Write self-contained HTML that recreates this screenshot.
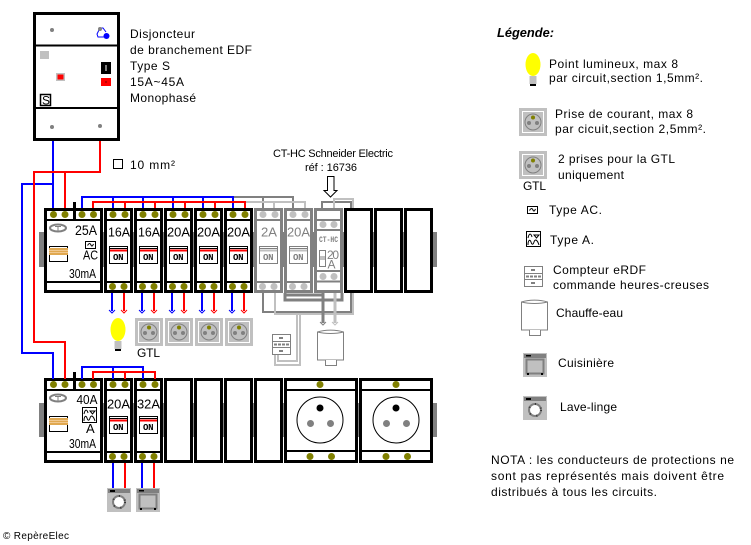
<!DOCTYPE html>
<html><head><meta charset="utf-8"><style>
html,body{margin:0;padding:0;background:#fff}
svg{display:block}
text{font-family:"Liberation Sans",sans-serif;font-size:12px;fill:#000}
.m{font-size:13px}
.g{fill:#808080}
.on{font-family:"Liberation Mono",monospace;font-size:9px;font-weight:bold}
</style></head><body>
<svg width="751" height="545" viewBox="0 0 751 545" xmlns="http://www.w3.org/2000/svg">
<defs>
<g id="mod"><rect x="1.5" y="1.5" width="26" height="82" fill="#fff" stroke="#000" stroke-width="3"/>
<path d="M0 12H29M0 74H29" stroke="#000" stroke-width="2" fill="none"/>
<g fill="#808000"><circle cx="9" cy="6.500" r="3.500"/><circle cx="21" cy="6.500" r="3.500"/><circle cx="8.500" cy="78.500" r="3.500"/><circle cx="20" cy="78.500" r="3.500"/></g>
<rect x="5.500" y="38.500" width="18" height="17" fill="#fff" stroke="#000"/>
<path d="M6 42.500H23" stroke="#f00" stroke-width="2"/><path d="M6 40.500H23" stroke="#000"/>
</g>
<g id="gmod"><rect x="1.500" y="1.500" width="26" height="82" fill="#fff" stroke="#808080" stroke-width="3"/>
<path d="M0 12H29M0 74H29" stroke="#808080" stroke-width="2" fill="none"/>
<g fill="#c0c0c0"><circle cx="9" cy="6.500" r="3.500"/><circle cx="21" cy="6.500" r="3.500"/><circle cx="8.500" cy="78.500" r="3.500"/><circle cx="20" cy="78.500" r="3.500"/></g>
<rect x="5.500" y="38.500" width="18" height="17" fill="#fff" stroke="#808080"/>
<path d="M6 42.500H23" stroke="#c0c0c0" stroke-width="2"/><path d="M6 40.500H23" stroke="#808080"/>
</g>
<rect id="blank" x="1.500" y="1.500" width="26" height="82" fill="#fff" stroke="#000" stroke-width="3"/>
<g id="diff"><rect x="1.500" y="1.500" width="56" height="82" fill="#fff" stroke="#000" stroke-width="3"/>
<path d="M0 12H59M0 74H59" stroke="#000" stroke-width="2"/>
<g fill="#808000"><circle cx="9.500" cy="6.500" r="3.500"/><circle cx="21" cy="6.500" r="3.500"/><circle cx="38" cy="6.500" r="3.500"/><circle cx="49.500" cy="6.500" r="3.500"/></g>
<rect x="29" y="-6" width="3" height="18" fill="#000"/>
<ellipse cx="14" cy="20" rx="8" ry="3.500" fill="#fff" stroke="#808080" stroke-width="2"/><path d="M11 18.500H17M14 18.500V22.500" stroke="#808080"/>
<rect x="5.500" y="38.500" width="18" height="15" fill="#fff" stroke="#000"/><rect x="5" y="40" width="19" height="7" fill="#e0a850"/><path d="M5 42.500H24M5 44.500H24" stroke="#f0c890"/>
</g>
<g id="sock"><rect x="0" y="0" width="28" height="28" fill="#c0c0c0"/><rect x="3.500" y="3.500" width="21" height="21" fill="#c0c0c0" stroke="#fff"/>
<circle cx="14" cy="14" r="8" fill="none" stroke="#808080"/><circle cx="14" cy="9.500" r="2" fill="#808000"/><circle cx="10" cy="15" r="2" fill="#808080"/><circle cx="18" cy="15" r="2" fill="#808080"/></g>
<g id="bulb"><ellipse cx="8" cy="11.500" rx="7.500" ry="11.500" fill="#ff0"/><rect x="4.500" y="23" width="7" height="8" fill="#c0c0c0"/><rect x="5" y="31" width="6" height="2" fill="#000"/></g>
<g id="lave"><rect width="24" height="24" fill="#c0c0c0"/><rect x="1" y="1" width="22" height="4" fill="#808080"/><rect x="3" y="2" width="5" height="2" fill="#000"/>
<circle cx="12" cy="14" r="6" fill="#fff" stroke="#808080" stroke-width="2"/><circle cx="12" cy="14" r="6" fill="none" stroke="#333" stroke-width="2" stroke-dasharray="1 6"/></g>
<g id="cuis"><rect width="24" height="24" fill="#c0c0c0"/><rect x="1" y="1" width="22" height="4" fill="#808080"/><rect x="3" y="2" width="5" height="1.500" fill="#000"/>
<rect x="3.500" y="6.500" width="17" height="14" fill="#c0c0c0" stroke="#808080" stroke-width="2"/><rect x="4" y="20" width="2" height="2" fill="#000"/><rect x="18" y="20" width="2" height="2" fill="#000"/></g>
<g id="meter" fill="none" stroke="#808080"><rect x=".5" y=".5" width="18" height="20" fill="#fff"/><path d="M.5 7.500H18.500M.5 13.500H18.500"/><rect x="7" y="3" width="4" height="2" fill="#808080" stroke="none"/><rect x="7" y="16" width="4" height="2" fill="#808080" stroke="none"/><path d="M2 10.500H17" stroke-dasharray="3 1" stroke-width="2"/></g>
<g id="heater" fill="#fff" stroke="#808080"><path d="M.5 3C8 .5 19 .5 26.500 3V31H.5Z"/><path d="M.5 3C8 5 19 5 26.500 3" fill="none"/><path d="M8.500 31V36.500H19.500V31"/></g>
<g id="sA" fill="none" stroke="#000"><rect x=".5" y=".5" width="14" height="15" fill="#fff"/><path d="M2 7C3 2 5 2 6 6M8 4H13L10.500 7ZM2 14C2 9 4 8 5 11S7 14 8 11 11 8 13 14"/></g>
<g id="sAC" fill="none" stroke="#000"><rect x=".5" y=".5" width="10" height="7" fill="#fff"/><path d="M2.500 4.500C4 2 5 2 6 4S7.500 5 8.500 3"/></g>
<path id="ah" d="M-3 0L0 3L3 0" fill="none" stroke-width="1"/>
</defs>

<!-- rail gaps -->
<rect x="39" y="232" width="398" height="35" fill="#808080"/>
<rect x="39" y="403" width="398" height="34" fill="#808080"/>

<!-- EDF -->
<rect x="34.500" y="13.500" width="84" height="126" fill="#fff" stroke="#000" stroke-width="3"/>
<path d="M34 45.500H119M34 108H119" stroke="#000" stroke-width="2"/>
<g fill="#808080"><circle cx="52" cy="30" r="2"/><circle cx="52" cy="127" r="2"/><circle cx="100" cy="126" r="2"/></g>
<path d="M104 37H98L97 34L100 28H103L106 32" fill="none" stroke="#00f"/>
<circle cx="106.500" cy="36" r="3" fill="#00f"/><circle cx="100" cy="29" r="2" fill="#808080"/>
<rect x="40" y="51" width="9" height="8" fill="#c0c0c0"/>
<rect x="56" y="73" width="9" height="8" fill="#c0c0c0"/><rect x="57.500" y="74.500" width="6" height="5" fill="#f00"/>
<rect x="101" y="62" width="10" height="12" fill="#000"/><rect x="105" y="65" width="2" height="6" fill="#808080"/>
<rect x="101" y="78" width="10" height="8" fill="#f00"/><circle cx="106" cy="82" r="1" fill="#a00"/>
<rect x="40.500" y="94.500" width="10" height="11" fill="#fff" stroke="#000" stroke-width="1.500"/>
<text x="42" y="104.500">S</text>
<text x="130" y="38" textLength="65">Disjoncteur</text>
<text x="130" y="54" textLength="122">de branchement EDF</text>
<text x="130" y="70" textLength="40">Type S</text>
<text x="130" y="86" textLength="54">15A~45A</text>
<text x="130" y="102" textLength="66">Monophasé</text>
<rect x="113.500" y="159.500" width="9" height="9" fill="#fff" stroke="#000"/>
<text x="130" y="169" textLength="45">10 mm²</text>

<!-- Row 1 modules -->
<use href="#diff" x="44" y="208"/>
<use href="#mod" x="104" y="208"/><use href="#mod" x="134" y="208"/><use href="#mod" x="164" y="208"/><use href="#mod" x="194" y="208"/><use href="#mod" x="224" y="208"/>
<use href="#gmod" x="254" y="208"/><use href="#gmod" x="284" y="208"/>
<!-- CT -->
<rect x="315.500" y="209.500" width="26" height="82" fill="#fff" stroke="#808080" stroke-width="3"/>
<path d="M314 220H343M314 230H343M314 271H343M314 281.500H343" stroke="#808080" stroke-width="2"/>
<g fill="#c0c0c0"><circle cx="323" cy="224.500" r="3.500"/><circle cx="334" cy="224.500" r="3.500"/><circle cx="323" cy="276.500" r="3.500"/><circle cx="334" cy="276.500" r="3.500"/></g>
<text x="319" y="242" textLength="19" lengthAdjust="spacingAndGlyphs" class="g" style="font-family:'Liberation Mono',monospace;font-size:8px;font-weight:bold">CT-HC</text>
<rect x="319.500" y="250.500" width="6" height="16" fill="#fff" stroke="#808080"/><path d="M320 257H325M320 259H325" stroke="#808080"/>
<text x="327" y="259" class="g" textLength="12">20</text><text x="327.500" y="268.500" class="g">A</text>

<text x="108" y="236.500" class="m" textLength="22" lengthAdjust="spacingAndGlyphs">16A</text><text x="138" y="236.500" class="m" textLength="22" lengthAdjust="spacingAndGlyphs">16A</text>
<text x="167" y="236.500" class="m" textLength="23" lengthAdjust="spacingAndGlyphs">20A</text><text x="197" y="236.500" class="m" textLength="23" lengthAdjust="spacingAndGlyphs">20A</text><text x="227" y="236.500" class="m" textLength="23" lengthAdjust="spacingAndGlyphs">20A</text>
<text x="261" y="236.500" class="m g" textLength="16" lengthAdjust="spacingAndGlyphs">2A</text><text x="287" y="236.500" class="m g" textLength="23" lengthAdjust="spacingAndGlyphs">20A</text>
<text x="113" y="260" class="on" textLength="10.500">ON</text><text x="143" y="260" class="on" textLength="10.500">ON</text><text x="173" y="260" class="on" textLength="10.500">ON</text><text x="203" y="260" class="on" textLength="10.500">ON</text><text x="233" y="260" class="on" textLength="10.500">ON</text>
<text x="263" y="260" class="on g" textLength="10.500">ON</text><text x="293" y="260" class="on g" textLength="10.500">ON</text>
<text x="75" y="235" style="font-size:14px" textLength="22" lengthAdjust="spacingAndGlyphs">25A</text><use href="#sAC" x="85" y="241"/><text x="83" y="259.500" class="m" textLength="15" lengthAdjust="spacingAndGlyphs">AC</text><text x="69" y="278" class="m" textLength="27" lengthAdjust="spacingAndGlyphs">30mA</text>

<!-- Row 2 modules -->
<use href="#diff" x="44" y="378"/>
<use href="#mod" x="104" y="378"/><use href="#mod" x="134" y="378"/>
<use href="#blank" x="164" y="378"/><use href="#blank" x="194" y="378"/><use href="#blank" x="224" y="378"/><use href="#blank" x="254" y="378"/>
<g fill="#fff" stroke="#000" stroke-width="3"><rect x="285.500" y="379.500" width="71" height="82"/><rect x="360.500" y="379.500" width="71" height="82"/></g>
<path d="M284 390H358M284 451H358M359 390H433M359 451H433" stroke="#000" stroke-width="2"/>
<g fill="#808000"><circle cx="320" cy="384.500" r="3.500"/><circle cx="310" cy="456.500" r="3.500"/><circle cx="331.500" cy="456.500" r="3.500"/><circle cx="396" cy="384.500" r="3.500"/><circle cx="386" cy="456.500" r="3.500"/><circle cx="407.500" cy="456.500" r="3.500"/></g>
<g fill="none" stroke="#000"><circle cx="320" cy="420" r="23"/><circle cx="396" cy="420" r="23"/></g>
<g fill="#808080"><circle cx="310.500" cy="423.500" r="3.500"/><circle cx="330.500" cy="423.500" r="3.500"/><circle cx="386.500" cy="423.500" r="3.500"/><circle cx="406.500" cy="423.500" r="3.500"/></g>
<circle cx="320" cy="408" r="3.500" fill="#000"/><circle cx="396" cy="408" r="3.500" fill="#000"/>
<text x="107" y="408.500" class="m" textLength="23" lengthAdjust="spacingAndGlyphs">20A</text><text x="137" y="408.500" class="m" textLength="23" lengthAdjust="spacingAndGlyphs">32A</text>
<text x="113" y="430" class="on" textLength="10.500">ON</text><text x="143" y="430" class="on" textLength="10.500">ON</text>
<text x="76.500" y="404" class="m" textLength="21" lengthAdjust="spacingAndGlyphs">40A</text><use href="#sA" x="82" y="407"/><text x="86" y="433" class="m">A</text><text x="69" y="448" class="m" textLength="27" lengthAdjust="spacingAndGlyphs">30mA</text>

<!-- wires -->
<g fill="none" stroke-width="2">
<path stroke="#00f" d="M53 141V208M53 184H22V353H53V379"/>
<path stroke="#f00" d="M100 141V172H34V342H65V379M65 172V208"/>
<path stroke="#808080" d="M233 197H293V208M263 197V208"/>
<path stroke="#c0c0c0" d="M245 202H305V208M274 202V208"/>
<path stroke="#00f" d="M82 208V197H233V208M113 197V208M143 197V208M173 197V208M203 197V208"/>
<path stroke="#f00" d="M93 208V202H245V208M125 202V208M155 202V208M185 202V208M215 202V208"/>
<path stroke="#00f" d="M112 293V311M142 293V311M172 293V311M202 293V311M232 293V311"/>
<path stroke="#f00" d="M124 293V311M154 293V311M184 293V311M214 293V311M244 293V311"/>
<path stroke="#00f" d="M82 379V367H143V379M113 367V379"/>
<path stroke="#f00" d="M93 379V372H155V379M125 372V379"/>
<path stroke="#00f" d="M113 463V488M142 463V488"/>
<path stroke="#f00" d="M125 463V488M154 463V488"/>
<path stroke="#808080" d="M263 293V312H351V202H322V208"/>
<path stroke="#c0c0c0" d="M275 293V314H353V199H334V208"/>
<path stroke="#c0c0c0" d="M300 314V365H275V355M297 314V361H278V355"/>
<path stroke="#808080" stroke-width="3" d="M285 293V300H342V293M285 295H323M323 293V323"/>
<path stroke="#c0c0c0" stroke-width="3" d="M335 293V323"/>
</g>
<!-- blank modules on top of the passing wires -->
<use href="#blank" x="344" y="208"/><use href="#blank" x="374" y="208"/><use href="#blank" x="404" y="208"/>

<g stroke="#00f"><use href="#ah" x="112" y="310"/><use href="#ah" x="142" y="310"/><use href="#ah" x="172" y="310"/><use href="#ah" x="202" y="310"/><use href="#ah" x="232" y="310"/></g>
<g stroke="#f00"><use href="#ah" x="124" y="310"/><use href="#ah" x="154" y="310"/><use href="#ah" x="184" y="310"/><use href="#ah" x="214" y="310"/><use href="#ah" x="244" y="310"/></g>
<g stroke="#808080"><use href="#ah" x="323" y="322"/></g><g stroke="#c0c0c0"><use href="#ah" x="335" y="322"/></g>

<!-- loads -->
<use href="#bulb" x="110" y="318"/>
<use href="#sock" x="135" y="318"/><use href="#sock" x="165" y="318"/><use href="#sock" x="195" y="318"/><use href="#sock" x="225" y="318"/>
<text x="137" y="357" textLength="23">GTL</text>
<use href="#meter" x="272" y="334"/>
<use href="#heater" x="317" y="329"/>
<use href="#lave" x="107" y="488"/><use href="#cuis" x="136" y="488"/>

<!-- CT label -->
<text x="273" y="157" textLength="120" style="font-size:11px">CT-HC Schneider Electric</text>
<text x="305" y="171" textLength="52" style="font-size:11px">réf : 16736</text>
<path d="M327.500 176.500H334V190.500H337L330.500 197L324 190.500H327.500Z" fill="#fff" stroke="#000"/>

<!-- Legend -->
<text x="497" y="37" textLength="57" lengthAdjust="spacingAndGlyphs" style="font-weight:bold;font-style:italic;font-size:13px">Légende:</text>
<use href="#bulb" x="525" y="53"/>
<text x="549" y="68" textLength="129">Point lumineux, max 8</text>
<text x="549" y="82" textLength="154">par circuit,section 1,5mm².</text>
<use href="#sock" x="519" y="108"/>
<text x="555" y="118" textLength="138">Prise de courant, max 8</text>
<text x="555" y="133" textLength="151">par cicuit,section 2,5mm².</text>
<use href="#sock" x="519" y="151"/>
<text x="523" y="190" textLength="23">GTL</text>
<text x="558" y="163" textLength="117">2 prises pour la GTL</text>
<text x="558" y="179" textLength="66">uniquement</text>
<use href="#sAC" x="527" y="206"/><text x="549" y="214" textLength="53">Type AC.</text>
<use href="#sA" x="526" y="231"/><text x="550" y="244" textLength="44">Type A.</text>
<use href="#meter" x="524" y="266"/>
<text x="553" y="274" textLength="93">Compteur eRDF</text>
<text x="553" y="289" textLength="156">commande heures-creuses</text>
<use href="#heater" x="521" y="299"/><text x="556" y="317" textLength="67">Chauffe-eau</text>
<use href="#cuis" x="523" y="353"/><text x="558" y="367" textLength="56">Cuisinière</text>
<use href="#lave" x="523" y="396"/><text x="560" y="411" textLength="57">Lave-linge</text>
<text x="491" y="464" textLength="243">NOTA : les conducteurs de protections ne</text>
<text x="491" y="480" textLength="233">sont pas représentés mais doivent être</text>
<text x="491" y="496" textLength="166">distribués à tous les circuits.</text>
<text x="3" y="539" textLength="66" style="font-size:10px">© RepèreElec</text>
</svg>
</body></html>
